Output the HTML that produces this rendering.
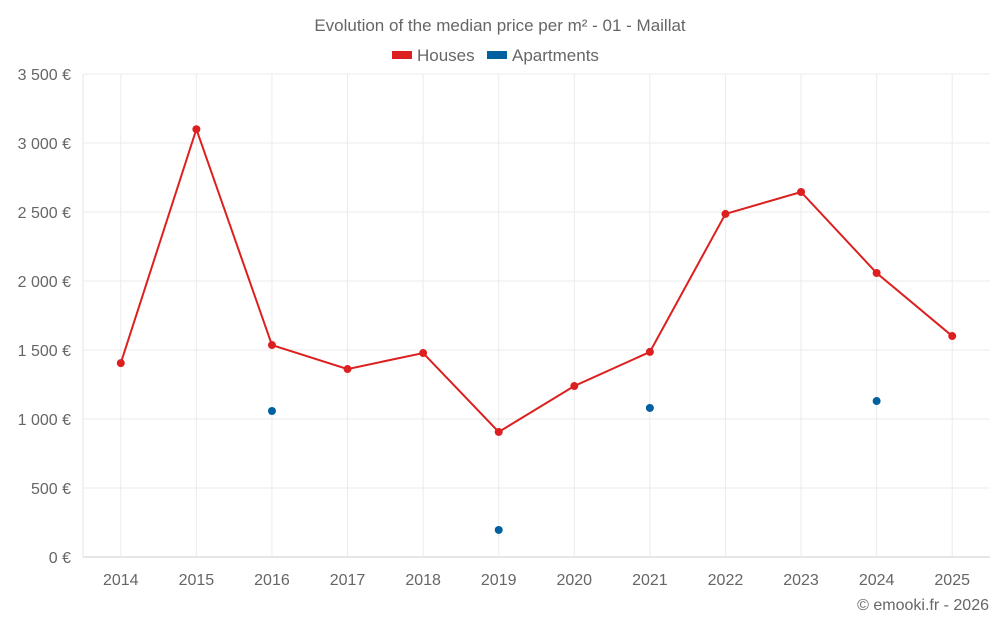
<!DOCTYPE html>
<html><head><meta charset="utf-8">
<style>
body{margin:0;background:#fff;font-family:"Liberation Sans",sans-serif;}
svg text{font-family:"Liberation Sans",sans-serif;fill:#666;}
</style></head>
<body>
<svg id="c" width="1000" height="625">
<text x="500" y="31" text-anchor="middle" font-size="17">Evolution of the median price per m² - 01 - Maillat</text>
<g>
<g><rect x="392" y="51" width="20" height="8" fill="#dc2020"/><text x="417" y="61" font-size="17">Houses</text></g>
<g><rect x="487" y="51" width="20" height="8" fill="#0060a0"/><text x="512" y="61" font-size="17">Apartments</text></g>
</g>
<g id="grid"></g><g id="axes"></g><g id="marks"></g>
<text x="989" y="610" text-anchor="end" font-size="16">© emooki.fr - 2026</text>
</svg>
<script>
const years=["2014","2015","2016","2017","2018","2019","2020","2021","2022","2023","2024","2025"];
const houses=[1405,3100,1536,1362,1478,906,1239,1486,2486,2645,2058,1601];
const apartments=[null,null,1058,null,null,196,null,1080,null,null,1130,null];
const yTicks=[0,500,1000,1500,2000,2500,3000,3500];
const yLabels=["0 €","500 €","1 000 €","1 500 €","2 000 €","2 500 €","3 000 €","3 500 €"];
const L=83,R=990,T=74,B=557,yMax=3500;
const step=(R-L)/years.length;
const xs=i=>L+step*(i+0.5);
const ys=v=>B-(v/yMax)*(B-T);
const NS="http://www.w3.org/2000/svg";
function mk(p,tag,a){const e=document.createElementNS(NS,tag);for(const k in a)e.setAttribute(k,a[k]);p.appendChild(e);return e;}
const g=document.getElementById('grid'),ax=document.getElementById('axes'),m=document.getElementById('marks');
yTicks.forEach((t,i)=>{
 const l=mk(g,'line',{x1:L,x2:R,y1:ys(t),y2:ys(t),stroke:i==0?'#ccc':'#ebebeb'});
 
 
 const tx=mk(ax,'text',{x:L-12,y:ys(t)+6,'text-anchor':'end','font-size':16});
 tx.textContent=yLabels[i];
 
 
});
const la=mk(g,'line',{x1:L,x2:L,y1:T,y2:B,stroke:'#e6e6e6'});


years.forEach((y,i)=>{
 const l=mk(g,'line',{x1:xs(i),x2:xs(i),y1:T,y2:B,stroke:'#ebebeb'});
 
 
 const tx=mk(ax,'text',{x:xs(i),y:585,'text-anchor':'middle','font-size':16});
 tx.textContent=y;
 
 
});
const pl=mk(m,'polyline',{points:houses.map((v,i)=>xs(i)+','+ys(v)).join(' '),fill:'none',stroke:'#dc2020','stroke-width':2});


houses.forEach((v,i)=>{
 const c=mk(m,'circle',{cx:xs(i),cy:ys(v),r:4,fill:'#dc2020'});
 
 
});
apartments.forEach((v,i)=>{
 if(v==null)return;
 const c=mk(m,'circle',{cx:xs(i),cy:ys(v),r:4,fill:'#0060a0'});
 
 
});
</script>
</body></html>
